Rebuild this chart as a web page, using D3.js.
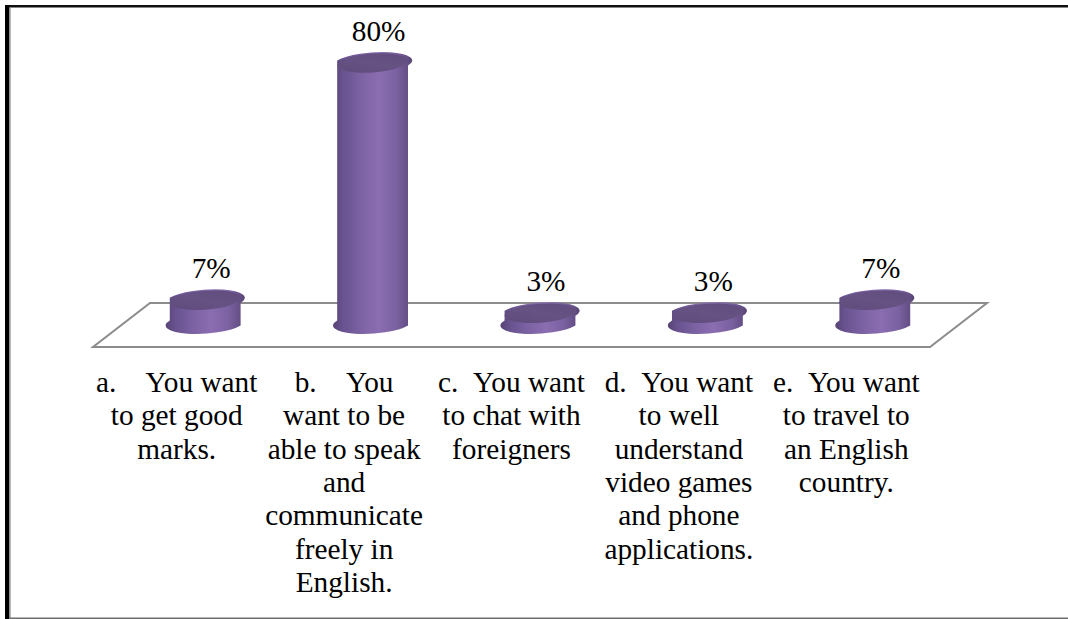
<!DOCTYPE html>
<html>
<head>
<meta charset="utf-8">
<script src="https://cdn.jsdelivr.net/npm/d3@7"></script>
<style>
  html, body { margin: 0; padding: 0; background: #fff; }
  svg { display: block; }
</style>
</head>
<body>
<svg id="chart" width="1068" height="619" font-family="'Liberation Serif', 'DejaVu Serif', serif"></svg>
<script>
// Survey answers: why students want to learn English
const categoryIds = ["a", "b", "c", "d", "e"];
const categoryLines = [
  ["a.\u00a0\u00a0\u00a0\u00a0You want", "to get good", "marks."],
  ["b.\u00a0\u00a0\u00a0\u00a0You", "want to be", "able to speak", "and", "communicate", "freely in", "English."],
  ["c.\u00a0\u00a0You want", "to chat with", "foreigners"],
  ["d.\u00a0\u00a0You want", "to well", "understand", "video games", "and phone", "applications."],
  ["e.\u00a0\u00a0You want", "to travel to", "an English", "country."]
];
const percentValues = [7, 80, 3, 3, 7];
const valueLabels = ["7%", "80%", "3%", "3%", "7%"];

const W = 1068, H = 619;
const svg = d3.select("#chart");

// Frame around the chart
svg.append("line").attr("x1", 5).attr("x2", W).attr("y1", 6.2).attr("y2", 6.2)
  .attr("stroke", "#111").attr("stroke-width", 2.4);
svg.append("line").attr("x1", 7.2).attr("x2", 7.2).attr("y1", 5).attr("y2", H)
  .attr("stroke", "#000").attr("stroke-width", 4.4);
svg.append("line").attr("x1", 10).attr("x2", 10).attr("y1", 7.4).attr("y2", H)
  .attr("stroke", "#8a8a8a").attr("stroke-width", 1.2);
svg.append("line").attr("x1", 9.4).attr("x2", W).attr("y1", 618.2).attr("y2", 618.2)
  .attr("stroke", "#6e6e6e").attr("stroke-width", 1.6);

// 3D floor: back edge, front edge and the depth offset between them
const floorBackY = 303, floorFrontY = 347;
const depthDX = 57;
const frontLeft = 93, frontRight = 930;

// Bars stand on the middle of the floor depth
const xMid = d3.scaleBand().domain(categoryIds)
  .range([frontLeft + depthDX / 2, frontRight + depthDX / 2]);
const xFront = d3.scaleBand().domain(categoryIds).range([frontLeft, frontRight]);
const baseY = 323;
const y = d3.scaleLinear().domain([0, 80]).range([baseY, 63]);

svg.append("path")
  .attr("d", d3.line()([
    [frontLeft + depthDX, floorBackY],
    [frontRight + depthDX, floorBackY],
    [frontRight, floorFrontY],
    [frontLeft, floorFrontY]
  ]) + "Z")
  .attr("fill", "none")
  .attr("stroke", "#8c8c8c")
  .attr("stroke-width", 2);

// Cylinder shading
const defs = svg.append("defs");
const body = defs.append("linearGradient").attr("id", "cylBody")
  .attr("x1", "0%").attr("x2", "100%").attr("y1", "0%").attr("y2", "0%");
[[0, "#574474"], [0.12, "#68528f"], [0.35, "#7c62a3"], [0.58, "#8b6db2"],
 [0.8, "#7a61a0"], [0.94, "#654f86"], [1, "#55426f"]]
  .forEach(([o, c]) => body.append("stop").attr("offset", o).attr("stop-color", c));
const cap = defs.append("linearGradient").attr("id", "cylTop")
  .attr("x1", "0%").attr("x2", "100%").attr("y1", "100%").attr("y2", "0%");
[[0, "#5e4b7c"], [0.5, "#665384"], [1, "#5f4c7c"]]
  .forEach(([o, c]) => cap.append("stop").attr("offset", o).attr("stop-color", c));

const rx = 35.5, ry = 9.5, tilt = -4;
const cs = Math.cos(tilt * Math.PI / 180), sn = Math.sin(tilt * Math.PI / 180);

const data = categoryIds.map((id, i) => ({
  id, lines: categoryLines[i], value: percentValues[i], label: valueLabels[i]
}));

const bars = svg.append("g").selectAll("g").data(data).join("g");

bars.append("path")
  .attr("fill", "url(#cylBody)")
  .attr("d", d => {
    const cx = xMid(d.id) + xMid.bandwidth() / 2;
    const top = y(d.value), bot = y(0);
    const lx = cx - rx * cs, rxp = cx + rx * cs;
    const ly = -rx * sn, ryo = rx * sn;
    return `M${lx},${top - ly}` +
      `L${lx},${bot - ly}` +
      `A${rx},${ry} ${tilt} 0 0 ${rxp},${bot - ryo}` +
      `L${rxp},${top - ryo}` +
      `A${rx},${ry} ${tilt} 0 0 ${lx},${top - ly}Z`;
  });

bars.append("ellipse")
  .attr("fill", "url(#cylTop)")
  .attr("rx", rx).attr("ry", ry)
  .attr("transform", d => {
    const cx = xMid(d.id) + xMid.bandwidth() / 2;
    return `translate(${cx},${y(d.value)}) rotate(${tilt})`;
  });

// Value labels above each cylinder
svg.append("g").selectAll("text").data(data).join("text")
  .attr("x", d => xMid(d.id) + xMid.bandwidth() / 2 + 6)
  .attr("y", d => y(d.value) - ry - 13)
  .attr("text-anchor", "middle")
  .attr("font-size", "29.3px")
  .attr("fill", "#000")
  .text(d => d.label);

// Category labels under the front edge of the floor
const catG = svg.append("g").selectAll("text").data(data).join("text")
  .attr("text-anchor", "middle")
  .attr("font-size", "29.3px")
  .attr("fill", "#000")
  .attr("x", d => xFront(d.id) + xFront.bandwidth() / 2)
  .attr("y", 392);
catG.selectAll("tspan").data(d => d.lines.map(t => ({ t, x: xFront(d.id) + xFront.bandwidth() / 2 })))
  .join("tspan")
  .attr("x", t => t.x)
  .attr("dy", (t, i) => i === 0 ? 0 : 33.3)
  .text(t => t.t);
</script>
</body>
</html>
